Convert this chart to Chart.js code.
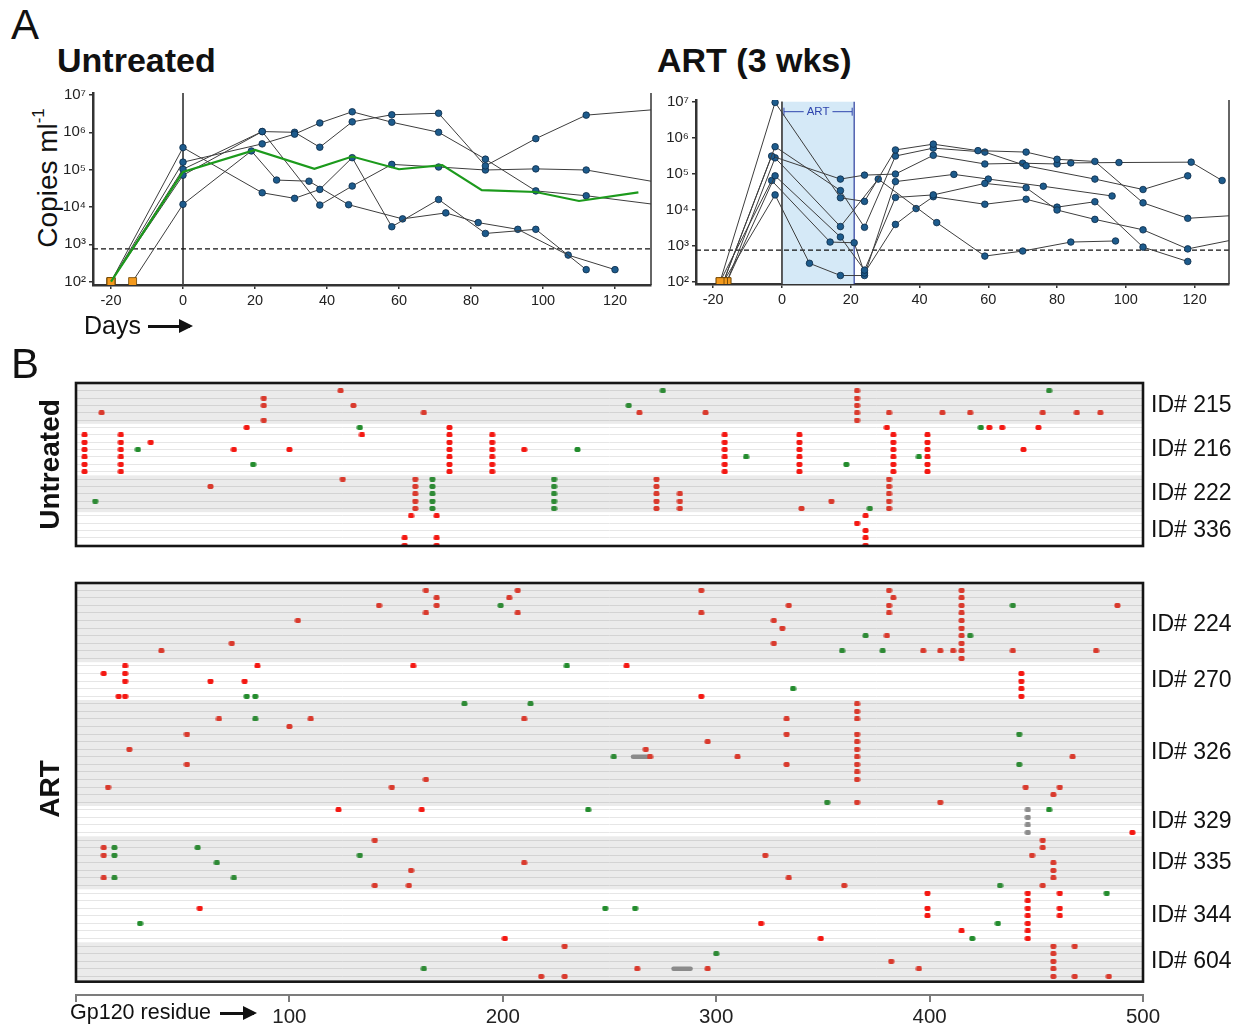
<!DOCTYPE html>
<html>
<head>
<meta charset="utf-8">
<script src="https://cdn.jsdelivr.net/npm/chart.js@4.4.1/dist/chart.umd.min.js"></script>
<style>
  body { margin: 0; background: #fff; font-family: "Liberation Sans", Arial, Helvetica, sans-serif; color: #111; }
  #page { position: relative; width: 1242px; height: 1028px; overflow: hidden; }
  canvas { position: absolute; }
  .lbl { position: absolute; white-space: nowrap; line-height: 1; }
  .arrow { position: absolute; height: 3px; background: #111; }
  .arrow:after { content: ""; position: absolute; right: -3px; top: -6px; border-left: 14px solid #111;
                 border-top: 7.5px solid transparent; border-bottom: 7.5px solid transparent; }
  .vtitle { position: absolute; width: 220px; text-align: center; line-height: 30px; transform: rotate(-90deg); white-space: nowrap; }
  .vtitle sup { font-size: 0.6em; vertical-align: 0.75em; line-height: 0; }
</style>
</head>
<body>
<div id="page">
  <div class="lbl" style="left:11px;top:4px;font-size:42px">A</div>
  <div class="lbl" style="left:57px;top:43px;font-size:34px;font-weight:bold">Untreated</div>
  <div class="lbl" style="left:657px;top:43px;font-size:34px;font-weight:bold">ART (3 wks)</div>
  <div class="vtitle" style="left:-62px;top:163px;font-size:28px">Copies ml<sup>-1</sup></div>
  <canvas id="loadUntreated" width="660" height="260" style="left:0;top:80px"></canvas>
  <canvas id="loadArt" width="582" height="260" style="left:660px;top:80px"></canvas>
  <div class="lbl" style="left:84px;top:313px;font-size:25px">Days</div>
  <div class="arrow" style="left:148px;top:325px;width:42px"></div>

  <div class="lbl" style="left:11px;top:343px;font-size:42px">B</div>
  <canvas id="mutUntreated" width="1242" height="190" style="left:0;top:370px"></canvas>
  <canvas id="mutArt" width="1242" height="458" style="left:0;top:570px"></canvas>
  <div class="lbl" style="left:70px;top:1002px;font-size:21.5px">Gp120 residue</div>
  <div class="arrow" style="left:220px;top:1012px;width:34px;height:2.5px"></div>
</div>

<script>
Chart.defaults.font.family = '"Liberation Sans", Arial, Helvetica, sans-serif';
Chart.defaults.color = '#222';
Chart.defaults.animation = false;

// Panel A: plasma viral load, each point is [day, log10 copies per ml]

const dayTicks = [-20, 0, 20, 40, 60, 80, 100, 120];
const logTicks = [2, 3, 4, 5, 6, 7];
const detectLimit = 750;
const artWindow = [0, 21];

const untreated1 = [[-20,2],[0,5.59],[22,4.38],[31,4.23],[38,4.47],[47,5.32],[58,3.47],[71,4.20],[84,3.29],[98,3.40],[112,2.32]];
const untreated2 = [[-20,2],[0,5.20],[22,5.69],[31,5.95],[38,6.25],[47,6.55],[58,6.27],[71,6.00],[84,5.28],[98,4.43],[112,4.30],[130,4.08]];
const untreated3 = [[-20,2],[0,5.01],[22,6.02],[31,6.00],[38,5.60],[47,6.28],[58,6.47],[71,6.51],[84,5.10],[98,5.83],[112,6.46],[130,6.60]];
const untreated4 = [[-20,2],[0,4.85],[22,6.02],[38,4.05],[47,4.56],[58,5.14],[71,5.07],[84,4.99],[98,5.02],[112,4.99],[130,4.69]];
const untreated5 = [[-14,2],[0,4.07],[19,5.50],[26,4.72],[35,4.69],[46,4.06],[61,3.68],[73,3.84],[82,3.58],[93,3.40],[107,2.71],[120,2.32]];
const untreatedMean = [[-20,2],[0,4.94],[20,5.53],[36.5,5.02],[47,5.35],[60,5.01],[72,5.12],[83,4.45],[98,4.40],[110,4.16],[126.5,4.39]];

const art1 = [[-18,2],[-2,6.98],[17,4.33],[24,4.23],[33,5.66],[44,5.82],[57,5.64],[71,5.60],[80,5.40],[91,5.34],[105,4.19],[118,3.76],[130,3.83]];
const art2 = [[-17,2],[-2,5.75],[17,4.53],[24,3.51],[33,5.49],[44,5.71],[59,5.60],[71,5.22],[91,4.85],[105,4.56],[118,4.94]];
const art3 = [[-17,2],[-3,5.49],[17,4.85],[24,4.96],[33,4.99],[44,5.51],[59,5.27],[70,5.29],[80,5.27],[84,5.30],[98,5.31],[119,5.32],[128,4.81]];
const art4 = [[-16,2],[-2,5.44],[17,3.53],[28,4.85],[45,3.64],[59,2.71],[70,2.85],[84,3.10],[97,3.13]];
const art5 = [[-16,2],[-2,4.94],[17,3.24],[24,2.32],[33,4.34],[44,4.41],[59,4.73],[71,4.61],[80,3.99],[91,3.73],[105,3.44],[118,2.91],[130,3.14]];
const art6 = [[-18,2],[-3,4.81],[14,3.10],[21,3.08],[24,2.24],[33,3.59],[39,4.03],[44,4.36],[59,4.15],[71,4.29],[80,4.07],[91,4.22],[105,2.96],[118,2.56]];
const art7 = [[-17,2],[-2,4.41],[8,2.51],[17,2.17],[24,2.17],[33,4.78],[50,4.98],[60,4.85],[76,4.65],[96,4.38]];

// Panel B: gp120 changes, each entry is [residue, row, row, ...] (rows counted inside one animal)

const resTicks = [0, 100, 200, 300, 400, 500];

const red215 = [[124,0],[88,1,2,4],[130,2],[12,3],[163,3],[264,3],[295,3],[366,0,1,2,3,4],[381,3],[406,3],[419,3],[453,3],[469,3],[480,3]];
const green215 = [[275,0],[259,2],[456,0]];
const red216 = [[80,0],[4,1,2,3,4,5,6],[21,1,2,3,4,5,6],[134,1],[35,2],[74,3],[100,3],[175,0,1,2,3,4,5,6],[195,1,2,3,4,5,6],[210,3],[304,1,2,3,4,5,6],[339,1,2,3,4,5,6],[380,0],[428,0],[434,0],[451,0],[383,1,2,3,4,5,6],[399,1,2,3,4,5,6],[444,3]];
const green216 = [[133,0],[29,3],[83,5],[235,3],[314,4],[361,5],[424,0],[395,4]];
const red222 = [[125,0],[159,0,1,2,3,4],[63,1],[272,0,1,2,3,4],[283,2,3,4],[354,3],[340,4],[381,0,1,2,3,4]];
const green222 = [[167,0,1,2,3,4],[9,3],[224,0,1,2,3,4],[372,4]];
const red336 = [[157,0],[169,0,3,4],[370,0,2,3,4],[366,1],[154,3,4]];
const green336 = [];

const red224 = [[164,0,3],[169,1,2],[142,2],[104,4],[73,7],[40,8],[207,0,3],[293,0,3],[203,1],[334,2],[327,4,7],[331,5],[381,0,2,3],[383,1],[415,0,1,2,3,4,5,6,7,8,9],[488,2],[380,6],[397,8],[405,8],[411,8],[439,8],[478,8]];
const green224 = [[199,2],[359,8],[439,2],[370,6],[419,6],[378,8]];
const red270 = [[23,0,1,2,4],[85,0],[158,0],[13,1],[63,2],[79,2],[20,4],[258,0],[293,4],[443,1,2,3,4]];
const green270 = [[80,4],[84,4],[230,0],[336,3]];
const red326 = [[67,2],[110,2],[100,3],[52,4,8],[25,6],[164,10],[15,11],[148,11],[210,2],[333,2,4,8],[296,5],[267,6],[269,7],[310,7],[366,0,1,2,4,5,6,7,8,9,10,13],[467,7],[445,11],[461,11],[458,12],[405,13]];
const green326 = [[182,0],[84,2],[213,0],[252,7],[442,4,8],[352,13]];
const red329 = [[123,0],[162,0],[495,3]];
const green329 = [[240,0],[456,0]];
const red335 = [[140,0,6],[13,1,2,5],[210,3],[157,4],[156,6],[453,0,1,6],[323,2],[448,2],[458,3,4,5],[334,5],[360,6]];
const green335 = [[18,1,2,5],[57,1],[133,2],[66,3],[74,5],[433,6]];
const red344 = [[58,2],[201,6],[399,0,2,3],[446,0,1,2,3,4,5,6],[461,0,2,3],[321,4],[415,5],[349,6]];
const green344 = [[248,2],[262,2],[30,4],[483,0],[432,4],[420,6]];
const red604 = [[229,0,4],[263,3],[218,4],[458,0,1,2,3,4],[468,0,4],[382,2],[296,3],[395,3],[484,4]];
const green604 = [[163,3],[300,1]];

// gray marks: [residue, row...] dots and [from, to, row] stretches
const gray329 = [[446,0,1,2,3]];
const gap326 = [[261,269,7]];
const gap604 = [[280,288,3]];

const untreatedIds = ['ID# 215', 'ID# 216', 'ID# 222', 'ID# 336'];
const untreatedRows = [5, 7, 5, 5];
const artIds = ['ID# 224', 'ID# 270', 'ID# 326', 'ID# 329', 'ID# 335', 'ID# 344', 'ID# 604'];
const artRows = [10, 5, 14, 4, 7, 7, 5];


// ---------- Panel A charts ----------

const supDigit = { 2: '\u00B2', 3: '\u00B3', 4: '\u2074', 5: '\u2075', 6: '\u2076', 7: '\u2077' };
const toPoints = arr => arr.map(([d, l]) => ({ x: d, y: Math.pow(10, l) }));

function animalSet(arr) {
  return {
    data: toPoints(arr),
    borderColor: '#3d3d3d',
    borderWidth: 1,
    pointStyle: c => c.dataIndex === 0 ? 'rect' : 'circle',
    pointRadius: c => c.dataIndex === 0 ? 5.6 : (c.raw && c.raw.x >= 130 ? 0 : 3.3),
    pointBackgroundColor: c => c.dataIndex === 0 ? '#f49a1d' : '#1d5b8c',
    pointBorderColor: c => c.dataIndex === 0 ? '#6b4200' : '#0c2b47',
    pointBorderWidth: 0.8
  };
}

const rightEdge = {
  id: 'rightEdge',
  afterDatasetsDraw(chart) {
    const { ctx, chartArea: a } = chart;
    ctx.save();
    ctx.strokeStyle = '#333';
    ctx.lineWidth = 1.5;
    ctx.beginPath();
    ctx.moveTo(a.right, a.top);
    ctx.lineTo(a.right, a.bottom);
    ctx.stroke();
    ctx.restore();
  }
};

const artBand = {
  id: 'artBand',
  beforeDatasetsDraw(chart) {
    const { ctx, chartArea: a, scales: { x, y } } = chart;
    const x0 = x.getPixelForValue(artWindow[0]);
    const x1 = x.getPixelForValue(artWindow[1]);
    const top = y.getPixelForValue(1e7);
    ctx.save();
    ctx.fillStyle = '#d5e9f7';
    ctx.fillRect(x0, top, x1 - x0, a.bottom - top);
    ctx.strokeStyle = '#2b3d9c';
    ctx.lineWidth = 1.2;
    ctx.beginPath();
    ctx.moveTo(x1, top);
    ctx.lineTo(x1, a.bottom);
    ctx.stroke();
    // |-- ART --| bracket
    const ly = top + 10;
    ctx.font = '11.5px "Liberation Sans", Arial, sans-serif';
    ctx.fillStyle = '#2f45ad';
    ctx.strokeStyle = '#2f45ad';
    ctx.lineWidth = 1;
    const tw = ctx.measureText('ART').width;
    const mid = (x0 + x1) / 2;
    ctx.textAlign = 'center';
    ctx.textBaseline = 'middle';
    ctx.fillText('ART', mid, ly + 0.5);
    ctx.beginPath();
    ctx.moveTo(x0 + 2, ly - 4); ctx.lineTo(x0 + 2, ly + 4);
    ctx.moveTo(x0 + 2, ly); ctx.lineTo(mid - tw / 2 - 3, ly);
    ctx.moveTo(mid + tw / 2 + 3, ly); ctx.lineTo(x1 - 2, ly);
    ctx.moveTo(x1 - 2, ly - 4); ctx.lineTo(x1 - 2, ly + 4);
    ctx.stroke();
    ctx.restore();
  }
};

function loadChart(id, series, mean, yMin, yMax, zeroTop, padding, yWidth, extra) {
  const datasets = [];
  if (mean) {
    datasets.push({ data: toPoints(mean), borderColor: '#1c9a1c', borderWidth: 2.2, pointRadius: 0 });
  }
  series.forEach(s => datasets.push(animalSet(s)));
  datasets.push({
    data: [{ x: -25, y: detectLimit }, { x: 130, y: detectLimit }],
    borderColor: '#111', borderWidth: 1.3, borderDash: [5, 3], pointRadius: 0
  });
  datasets.push({
    data: [{ x: 0, y: zeroTop }, { x: 0, y: yMin }],
    borderColor: '#444', borderWidth: 1, pointRadius: 0
  });

  return new Chart(document.getElementById(id), {
    type: 'line',
    data: { datasets },
    options: {
      responsive: false,
      layout: { padding },
      plugins: { legend: { display: false }, tooltip: { enabled: false } },
      scales: {
        x: {
          type: 'linear', min: -25, max: 130,
          afterBuildTicks: s => { s.ticks = dayTicks.map(v => ({ value: v })); },
          ticks: { font: { size: 14.5 }, color: '#222', padding: 3, maxRotation: 0 },
          grid: { drawOnChartArea: false, tickLength: 4, color: '#333', lineWidth: 1.5 },
          border: { color: '#333', width: 2.5 },
          afterFit: s => { s.height = 30; }
        },
        y: {
          type: 'logarithmic', min: yMin, max: yMax,
          afterBuildTicks: s => { s.ticks = logTicks.map(p => ({ value: Math.pow(10, p) })); },
          ticks: {
            font: { size: 15 }, color: '#222', padding: 3,
            callback: v => '10' + supDigit[Math.round(Math.log10(v))]
          },
          grid: { drawOnChartArea: false, tickLength: 4, color: '#333', lineWidth: 1.5 },
          border: { color: '#333', width: 2.5 },
          afterFit: s => { s.width = yWidth; }
        }
      }
    },
    plugins: [rightEdge].concat(extra)
  });
}

loadChart('loadUntreated',
  [untreated1, untreated2, untreated3, untreated4, untreated5], untreatedMean,
  81, 1.13e7, 1.13e7, { left: 30, top: 13, right: 9, bottom: 25 }, 63, []);

loadChart('loadArt',
  [art1, art2, art3, art4, art5, art6, art7], null,
  86, 1.115e7, 1e7, { left: 0, top: 20, right: 13, bottom: 26 }, 36, [artBand]);


// ---------- Panel B charts ----------

function dotImage(color) {
  const c = document.createElement('canvas');
  c.width = 7; c.height = 5;
  const g = c.getContext('2d');
  g.fillStyle = color;
  g.beginPath();
  g.roundRect(0.5, 0, 6, 5, 1.8);
  g.fill();
  return c;
}
const dotRedShade = dotImage('#d93a2d');
const dotRedWhite = dotImage('#f41812');
const dotGreenShade = dotImage('#2e8a35');
const dotGreenWhite = dotImage('#238c2d');
const dotGray = dotImage('#8c8c8c');

function expand(list, start, shade) {
  const pts = [];
  list.forEach(([res, ...rows]) => rows.forEach(r => pts.push({ x: res, y: start + r, s: shade })));
  return pts;
}

function mutationChart(id, title, ids, rows, reds, greens, grays, gaps, view, boxEnd, showAxis, padding) {
  const starts = [];
  let acc = 0;
  rows.forEach(n => { starts.push(acc); acc += n; });
  const total = acc;
  const groupOf = r => { let g = 0; while (g < rows.length - 1 && r >= starts[g + 1]) g++; return g; };
  const centers = rows.map((n, g) => starts[g] + (n - 1) / 2);
  const rowList = Array.from({ length: total }, (_, i) => i);

  const redPts = [], greenPts = [], grayPts = [];
  const datasets = [];
  rows.forEach((n, g) => {
    const shade = g % 2 === 0;
    redPts.push(...expand(reds[g] || [], starts[g], shade));
    greenPts.push(...expand(greens[g] || [], starts[g], shade));
    grayPts.push(...expand(grays[g] || [], starts[g], shade));
    (gaps[g] || []).forEach(([a, b, r]) => {
      datasets.push({
        type: 'line', data: [{ x: a, y: starts[g] + r }, { x: b, y: starts[g] + r }],
        borderColor: '#8a8a8a', borderWidth: 4.5, borderCapStyle: 'round', pointRadius: 0
      });
    });
  });
  datasets.unshift(
    { data: redPts, pointStyle: c => (c.raw && c.raw.s) ? dotRedShade : dotRedWhite, pointRadius: 3 },
    { data: greenPts, pointStyle: c => (c.raw && c.raw.s) ? dotGreenShade : dotGreenWhite, pointRadius: 3 },
    { data: grayPts, pointStyle: dotGray, pointRadius: 3 }
  );

  const bands = {
    id: 'bands',
    beforeDraw(chart) {
      const { ctx, chartArea: a, scales: { y } } = chart;
      const bot = Math.min(a.bottom, y.getPixelForValue(boxEnd));
      ctx.save();
      ctx.fillStyle = '#ebebeb';
      rows.forEach((n, g) => {
        if (g % 2) return;
        const y0 = g === 0 ? a.top : y.getPixelForValue(starts[g] - 0.5);
        const y1 = g === rows.length - 1 ? bot : y.getPixelForValue(starts[g] + n - 0.5);
        ctx.fillRect(a.left, y0, a.right - a.left, y1 - y0);
      });
      ctx.restore();
    },
    afterDraw(chart) {
      const { ctx, chartArea: a, scales: { y } } = chart;
      const bot = Math.min(a.bottom, y.getPixelForValue(boxEnd));
      ctx.save();
      ctx.strokeStyle = '#151515';
      ctx.lineWidth = 2.6;
      ctx.strokeRect(a.left, a.top, a.right - a.left, bot - a.top);
      ctx.restore();
    }
  };

  return new Chart(document.getElementById(id), {
    type: 'scatter',
    data: { datasets },
    options: {
      responsive: false,
      layout: { padding },
      plugins: { legend: { display: false }, tooltip: { enabled: false } },
      scales: {
        x: {
          type: 'linear', min: 0, max: 500, display: showAxis,
          afterBuildTicks: s => { s.ticks = resTicks.map(v => ({ value: v })); },
          ticks: { font: { size: 20.5 }, color: '#222', padding: 3, maxRotation: 0, autoSkip: false,
                   callback: v => v === 0 ? '' : v },
          grid: { drawOnChartArea: false, color: '#7c7c7c', lineWidth: 2, tickLength: 7 },
          border: { color: '#7c7c7c', width: 2 },
          afterFit: s => { s.height = showAxis ? 33 : 0; }
        },
        y: {
          type: 'linear', reverse: true, min: view[0], max: view[1], position: 'left',
          afterBuildTicks: s => { s.ticks = rowList.map(v => ({ value: v })); },
          ticks: { display: false },
          grid: {
            drawTicks: false, lineWidth: 1,
            color: c => {
              const v = c.tick ? c.tick.value : -1;
              if (v < 0 || v > total - 1) return 'rgba(0,0,0,0)';
              return groupOf(v) % 2 === 0 ? '#d3d3d3' : '#e6e6e6';
            }
          },
          border: { display: false },
          title: { display: true, text: title, font: { size: 28, weight: 'bold' }, color: '#111', padding: { top: 4, bottom: 0 } },
          afterFit: s => { s.width = 46; s.paddingTop = 0; s.paddingBottom = 0; }
        },
        id: {
          type: 'linear', reverse: true, min: view[0], max: view[1], position: 'right',
          afterBuildTicks: s => { s.ticks = centers.map(v => ({ value: v })); },
          ticks: { font: { size: 23 }, color: '#111', padding: 8, callback: (v, i) => ids[i] },
          grid: { display: false, drawTicks: false },
          border: { display: false },
          afterFit: s => { s.width = 99; s.paddingTop = 0; s.paddingBottom = 0; }
        }
      }
    },
    plugins: [bands]
  });
}

mutationChart('mutUntreated', 'Untreated', untreatedIds, untreatedRows,
  [red215, red216, red222, red336],
  [green215, green216, green222, green336],
  [], [],
  [-1.05, 21.1], 21.1, false, { left: 30, top: 13, right: 0, bottom: 14 });

mutationChart('mutArt', 'ART', artIds, artRows,
  [red224, red270, red326, red329, red335, red344, red604],
  [green224, green270, green326, green329, green335, green344, green604],
  [[], [], [], gray329, [], [], []],
  [[], [], gap326, [], [], [], gap604],
  [-0.96, 53.46], 51.7, true, { left: 30, top: 13, right: 0, bottom: 0 });
</script>
</body>
</html>
